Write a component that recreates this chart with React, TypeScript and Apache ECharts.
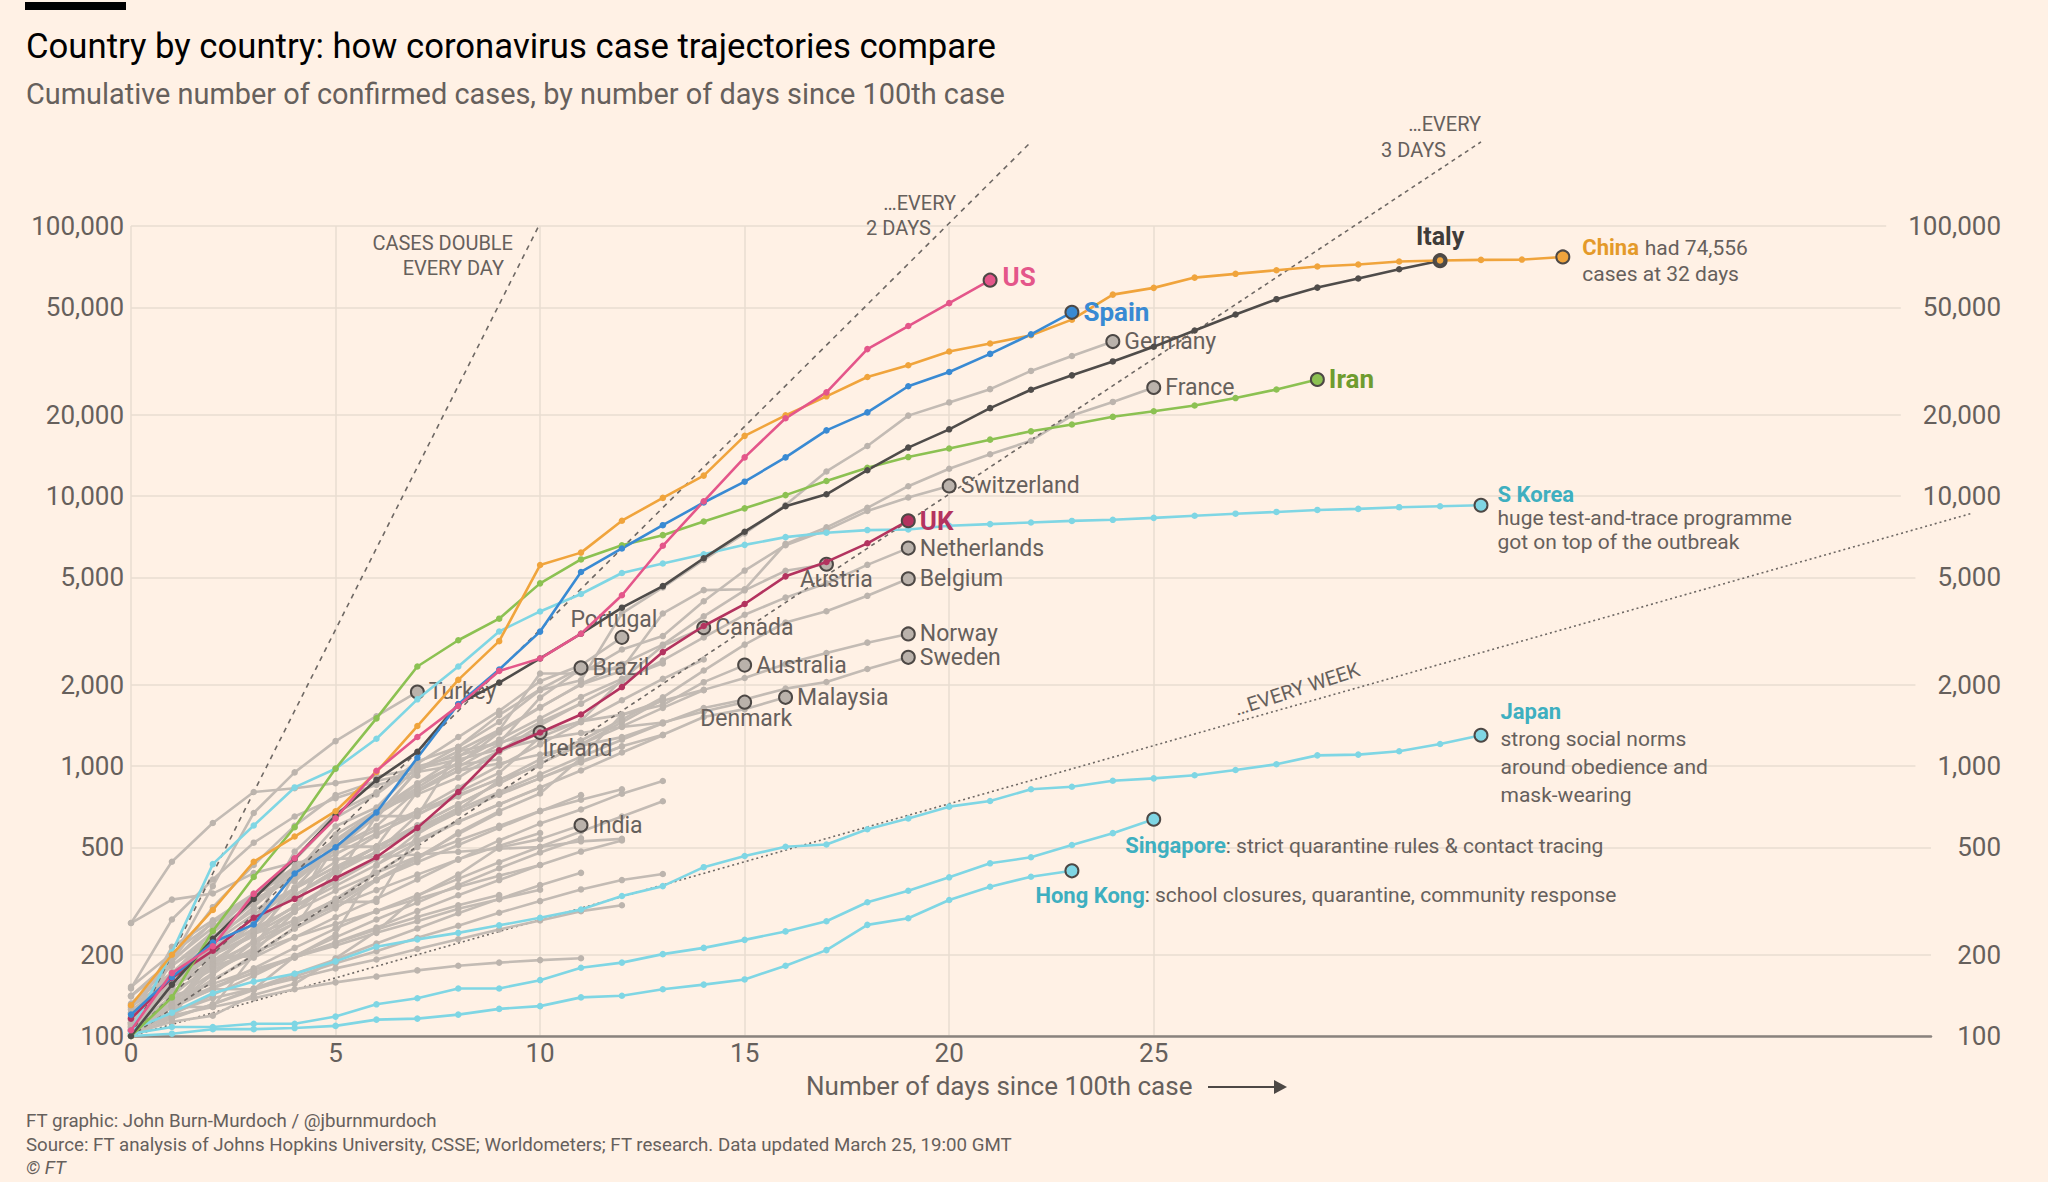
import React, { useEffect, useRef } from "react";
import * as echarts from "echarts";

const FONT = "Roboto, 'Open Sans', sans-serif";
const BG = "#fff1e5";
const TXT = "#66605c";
const GRID = "#e8dcd1";
const RING = "#4d4845";
const GRAY_LINE = "#c3bbb4";
const GRAY_DOT = "#bcb4ad";
const GRAY_END = "#bab2ab";
const CYAN = "#7fd6e4";
const TEAL = "#3eafc0";

const xTicks = [0, 5, 10, 15, 20, 25];
const yTicks = [100, 200, 500, 1000, 2000, 5000, 10000, 20000, 50000, 100000];

// Highlighted countries: cumulative cases by day since 100th case
const usCases = [105, 171, 215, 336, 455, 640, 960, 1280, 1670, 2250, 2500, 3090, 4290, 6540, 9550, 13900, 19400, 24200, 35000, 42600, 51800, 63000];
const spainCases = [120, 165, 222, 259, 400, 500, 673, 1073, 1695, 2277, 3146, 5232, 6391, 7798, 9460, 11300, 13900, 17500, 20400, 25500, 28800, 33600, 39700, 47900];
const chinaCases = [130, 200, 293, 442, 548, 680, 950, 1406, 2084, 2900, 5550, 6170, 8100, 9840, 11900, 16700, 19900, 23400, 27600, 30500, 34300, 36700, 39400, 45000, 55700, 59000, 64400, 66500, 68600, 70800, 72000, 73900, 74556, 74900, 75100, 76800];
const italyCases = [100, 155, 229, 322, 453, 655, 888, 1128, 1694, 2036, 2502, 3089, 3858, 4636, 5883, 7375, 9172, 10149, 12462, 15113, 17660, 21157, 24747, 27980, 31506, 35713, 41035, 47021, 53578, 59138, 63927, 69176, 74386];
const iranCases = [100, 139, 245, 388, 593, 978, 1501, 2336, 2922, 3513, 4747, 5823, 6566, 7161, 8042, 9000, 10075, 11364, 12729, 13938, 14991, 16169, 17361, 18407, 19644, 20610, 21638, 23049, 24811, 27017];
const ukCases = [116, 164, 207, 274, 322, 384, 459, 590, 801, 1143, 1330, 1551, 1960, 2642, 3300, 3980, 5040, 5700, 6680, 8100];
const sKoreaCases = [104, 204, 433, 602, 833, 977, 1261, 1766, 2337, 3150, 3736, 4335, 5186, 5621, 6088, 6593, 7041, 7314, 7478, 7513, 7755, 7869, 7979, 8086, 8162, 8300, 8450, 8600, 8730, 8880, 8960, 9090, 9160, 9240];
const japanCases = [105, 122, 144, 159, 170, 189, 214, 228, 241, 257, 274, 294, 330, 359, 422, 464, 502, 512, 583, 639, 707, 742, 820, 838, 882, 900, 924, 966, 1015, 1095, 1102, 1134, 1206, 1300];
const singaporeCases = [102, 108, 108, 111, 111, 118, 131, 138, 150, 150, 161, 179, 187, 201, 212, 227, 244, 266, 313, 345, 387, 436, 459, 510, 564, 635];
const hongKongCases = [100, 102, 106, 106, 107, 109, 115, 116, 120, 126, 129, 139, 141, 149, 155, 162, 182, 208, 258, 273, 319, 357, 389, 409];

// Labelled grey countries
const germanyCases = [130, 159, 196, 262, 482, 670, 799, 1040, 1176, 1457, 1908, 2078, 3675, 4585, 5795, 7272, 9257, 12327, 15320, 19848, 22213, 24873, 29056, 32986, 37323];
const franceCases = [100, 130, 191, 204, 288, 380, 656, 957, 1134, 1217, 1792, 2290, 2290, 3672, 4480, 4513, 6650, 7652, 9043, 10871, 12612, 14282, 16018, 19856, 22304, 25233];
const switzerlandCases = [114, 214, 268, 337, 374, 491, 652, 652, 1139, 1359, 2200, 2200, 2700, 3028, 4075, 5294, 6575, 7474, 8795, 9877, 10897];
const netherlandsCases = [128, 188, 265, 321, 382, 503, 503, 804, 959, 1135, 1413, 1705, 2051, 2460, 2994, 3631, 4204, 4749, 5560, 6412];
const belgiumCases = [109, 169, 200, 239, 267, 314, 314, 559, 689, 886, 1058, 1243, 1486, 1795, 2257, 2815, 3401, 3743, 4269, 4937];
const austriaCases = [104, 131, 182, 246, 302, 504, 655, 860, 1018, 1332, 1646, 2013, 2388, 2814, 3582, 4474, 5283, 5588];
const norwayCases = [108, 147, 176, 205, 400, 598, 702, 996, 1090, 1221, 1333, 1463, 1550, 1746, 1914, 2118, 2385, 2621, 2863, 3084];
const swedenCases = [101, 161, 203, 248, 355, 500, 599, 814, 961, 1022, 1103, 1190, 1279, 1439, 1639, 1763, 1934, 2046, 2286, 2526];
const canadaCases = [108, 117, 193, 198, 252, 415, 478, 657, 800, 943, 1277, 1469, 2088, 2790, 3251];
const australiaCases = [107, 128, 128, 200, 250, 297, 377, 452, 568, 681, 791, 1071, 1549, 1682, 2044, 2364];
const malaysiaCases = [117, 129, 149, 149, 197, 238, 428, 566, 673, 790, 900, 1030, 1183, 1306, 1518, 1624, 1796];
const denmarkCases = [262, 442, 615, 801, 827, 864, 914, 977, 1057, 1151, 1255, 1326, 1395, 1450, 1591, 1724];
const portugalCases = [112, 169, 245, 331, 448, 642, 785, 1020, 1280, 1600, 2060, 2362, 2995];
const brazilCases = [100, 121, 200, 234, 346, 529, 640, 970, 1178, 1546, 1924, 2310];
const turkeyCases = [100, 191, 359, 670, 947, 1236, 1529, 1880];
const irelandCases = [100, 129, 169, 223, 292, 557, 683, 785, 906, 1125, 1330];
const indiaCases = [102, 113, 119, 142, 156, 194, 244, 330, 396, 499, 536, 603];

// Other (unlabelled) countries
const otherCountries = [
  [105, 130, 162, 195, 232, 275, 322, 380, 450, 530, 612, 690, 790, 880],
  [118, 152, 190, 238, 290, 345, 402, 462, 530, 600, 682, 750, 820],
  [110, 127, 150, 178, 212, 250, 290, 332, 382, 440, 502, 572, 650, 740],
  [102, 120, 142, 167, 198, 232, 270, 312, 362, 418, 478, 540],
  [115, 131, 150, 172, 196, 222, 252, 290, 332, 378, 430, 482, 530],
  [100, 116, 131, 150, 170, 192, 220, 250, 285, 322, 362, 402],
  [112, 131, 152, 171, 195, 221, 248, 276, 305, 333],
  [110, 119, 128, 138, 149, 158, 166, 175, 182, 187, 191, 194],
  [104, 117, 131, 148, 166, 186, 206, 231, 256, 286, 316, 349, 378, 398],
  [122, 152, 186, 221, 262, 302, 347, 396, 451, 506, 565],
  [126, 141, 156, 176, 196, 216, 241, 266, 296, 321, 348],
  [115, 151, 202, 262, 331, 412, 502, 603, 722, 862, 1021, 1203, 1452, 1760],
  [131, 172, 221, 282, 351, 423, 502, 592, 691, 802, 931, 1082, 1251, 1440],
  [106, 141, 186, 242, 302, 372, 452, 532, 622, 722, 832, 962, 1122, 1300],
  [141, 182, 231, 292, 352, 422, 502, 582, 672, 782, 902, 1042, 1180],
  [121, 162, 212, 272, 352, 442, 552, 682, 832, 1002, 1202, 1452, 1752, 2102, 2480],
  [112, 152, 202, 262, 332, 412, 502, 602, 722, 862, 1022, 1202, 1402, 1642, 1910],
  [152, 202, 262, 332, 412, 492, 582, 682, 782, 892, 1000],
  [132, 182, 242, 312, 392, 472, 562, 662, 772, 900],
  [111, 151, 202, 262, 332, 402, 482, 582, 700],
  [106, 136, 171, 212, 262, 322, 402, 500],
  [141, 191, 252, 332, 422, 532, 662, 812, 992, 1202, 1452, 1700],
  [122, 172, 232, 312, 412, 532, 682, 862, 1082, 1352, 1652, 2002, 2250],
  [112, 162, 222, 302, 402, 522, 662, 832, 1032, 1252, 1502, 1802, 2102, 2400],
  [262, 320, 337, 401, 439, 452, 460, 470, 481, 494, 501, 526, 537],
  [108, 122, 138, 150, 163, 178, 192, 210, 228, 248, 268, 290, 305],
  [128, 165, 205, 250, 300, 360, 430, 520, 620, 720, 830],
  [100, 128, 160, 200, 250, 310, 380, 460, 560, 670],
  [116, 145, 180, 225, 270, 320, 380, 440, 510, 590, 680, 780],
  [125, 155, 180, 205, 232, 260, 290, 322, 356, 392, 430],
  [150, 270, 380, 520, 650, 760, 850, 920],
  [140, 190, 300, 430, 600, 780, 880, 950, 1010, 1060],
];

// Doubling-time guide lines: [day, cases] end points
const refEveryDay = [[0, 100], [10, 102400]];
const refEvery2Days = [[0, 100], [22, 204800]];
const refEvery3Days = [[0, 100], [33, 204800]];
const refEveryWeek = [[0, 100], [45, 8629]];

const baseLabel = { fontFamily: FONT, fontSize: 23, color: TXT };

function lineSeries(name: string, vals: number[], lineColor: string, dotColor: string, z: number, end?: any) {
  const last = vals.length - 1;
  return {
    type: "line",
    name,
    silent: true,
    z,
    symbol: "circle",
    symbolSize: 6.5,
    showSymbol: true,
    showAllSymbol: true,
    lineStyle: { color: lineColor, width: 2.6 },
    itemStyle: { color: dotColor },
    emphasis: { disabled: true },
    label: { show: false },
    data: vals.map((v, i) =>
      end && i === last
        ? {
            value: [i, v],
            symbolSize: 13,
            itemStyle: { color: end.fill, borderColor: RING, borderWidth: 2 },
            label: { show: true, ...baseLabel, ...end.label },
          }
        : [i, v]
    ),
  };
}

function refSeries(name: string, pts: number[][], dash: number[]) {
  return {
    type: "line",
    name,
    silent: true,
    clip: false,
    z: 2,
    symbol: "none",
    lineStyle: { color: "#6e6864", width: 1.6, type: dash },
    emphasis: { disabled: true },
    data: pts,
  };
}

const greyEnd = (label: any) => ({ fill: GRAY_END, label });
const boldLbl = (color: string, extra: any = {}) => ({ color, fontWeight: "bold", fontSize: 26, ...extra });

function buildOption() {
  const series: any[] = [];
  otherCountries.forEach((vals, k) => series.push(lineSeries("other" + k, vals, GRAY_LINE, GRAY_DOT, 2)));

  const right = (text: string) => ({ position: "right", distance: 4, formatter: text });
  const at = (text: string, pos: number[]) => ({ position: pos, align: "left", verticalAlign: "middle", formatter: text });

  series.push(lineSeries("Germany", germanyCases, GRAY_LINE, GRAY_DOT, 2, greyEnd(right("Germany"))));
  series.push(lineSeries("France", franceCases, GRAY_LINE, GRAY_DOT, 2, greyEnd(right("France"))));
  series.push(lineSeries("Switzerland", switzerlandCases, GRAY_LINE, GRAY_DOT, 2, greyEnd(right("Switzerland"))));
  series.push(lineSeries("Netherlands", netherlandsCases, GRAY_LINE, GRAY_DOT, 2, greyEnd(right("Netherlands"))));
  series.push(lineSeries("Belgium", belgiumCases, GRAY_LINE, GRAY_DOT, 2, greyEnd(right("Belgium"))));
  series.push(lineSeries("Austria", austriaCases, GRAY_LINE, GRAY_DOT, 2, greyEnd(at("Austria", [-19, 23]))));
  series.push(lineSeries("Norway", norwayCases, GRAY_LINE, GRAY_DOT, 2, greyEnd(right("Norway"))));
  series.push(lineSeries("Sweden", swedenCases, GRAY_LINE, GRAY_DOT, 2, greyEnd(right("Sweden"))));
  series.push(lineSeries("Canada", canadaCases, GRAY_LINE, GRAY_DOT, 2, greyEnd(right("Canada"))));
  series.push(lineSeries("Australia", australiaCases, GRAY_LINE, GRAY_DOT, 2, greyEnd(right("Australia"))));
  series.push(lineSeries("Malaysia", malaysiaCases, GRAY_LINE, GRAY_DOT, 2, greyEnd(right("Malaysia"))));
  series.push(lineSeries("Denmark", denmarkCases, GRAY_LINE, GRAY_DOT, 2, greyEnd(at("Denmark", [-37, 24]))));
  series.push(lineSeries("Portugal", portugalCases, GRAY_LINE, GRAY_DOT, 2, greyEnd(at("Portugal", [-44, -10]))));
  series.push(lineSeries("Brazil", brazilCases, GRAY_LINE, GRAY_DOT, 2, greyEnd(right("Brazil"))));
  series.push(lineSeries("Turkey", turkeyCases, GRAY_LINE, GRAY_DOT, 2, greyEnd(right("Turkey"))));
  series.push(lineSeries("Ireland", irelandCases, GRAY_LINE, GRAY_DOT, 2, greyEnd(at("Ireland", [10, 23]))));
  series.push(lineSeries("India", indiaCases, GRAY_LINE, GRAY_DOT, 2, greyEnd(right("India"))));

  series.push(refSeries("every day", refEveryDay, [5, 5]));
  series.push(refSeries("every 2 days", refEvery2Days, [5, 5]));
  series.push(refSeries("every 3 days", refEvery3Days, [4, 4]));

  const richT = { color: TXT, fontSize: 21, fontFamily: FONT };
  const richB = (c: string) => ({ color: c, fontSize: 22, fontWeight: "bold", fontFamily: FONT });

  series.push(
    lineSeries("Hong Kong", hongKongCases, CYAN, CYAN, 3, {
      fill: CYAN,
      label: {
        position: [-29, 32],
        align: "left",
        verticalAlign: "middle",
        formatter: "{b|Hong Kong}{t|: school closures, quarantine, community response}",
        rich: { b: richB(TEAL), t: richT },
      },
    })
  );
  series.push(
    lineSeries("Singapore", singaporeCases, CYAN, CYAN, 3, {
      fill: CYAN,
      label: {
        position: [-21, 34],
        align: "left",
        verticalAlign: "middle",
        formatter: "{b|Singapore}{t|: strict quarantine rules & contact tracing}",
        rich: { b: richB(TEAL), t: richT },
      },
    })
  );
  series.push(
    lineSeries("Japan", japanCases, CYAN, CYAN, 3, {
      fill: CYAN,
      label: {
        position: "right",
        distance: 5,
        offset: [7, 18],
        formatter: "{b|Japan}\n{t|strong social norms}\n{t|around obedience and}\n{t|mask-wearing}",
        rich: { b: { ...richB(TEAL), lineHeight: 28 }, t: { ...richT, lineHeight: 28 } },
      },
    })
  );
  series.push(
    lineSeries("S Korea", sKoreaCases, CYAN, CYAN, 3, {
      fill: CYAN,
      label: {
        position: "right",
        distance: 5,
        offset: [4, 13],
        formatter: "{b|S Korea}\n{t|huge test-and-trace programme}\n{t|got on top of the outbreak}",
        rich: { b: { ...richB(TEAL), lineHeight: 24 }, t: { ...richT, lineHeight: 24 } },
      },
    })
  );
  series.push(lineSeries("UK", ukCases, "#b3335f", "#b3335f", 4, { fill: "#b3335f", label: { position: "right", distance: 4, formatter: "UK", ...boldLbl("#b3335f") } }));
  series.push(lineSeries("Iran", iranCases, "#8cc152", "#8cc152", 4, { fill: "#8cc152", label: { position: "right", distance: 4, formatter: "Iran", ...boldLbl("#6f9c2f") } }));
  series.push(lineSeries("Italy", italyCases, "#4f4c4a", "#4f4c4a", 4, { fill: "#4f4c4a", label: { position: "top", distance: 4, formatter: "Italy", ...boldLbl("#3f3c3a", { fontSize: 25 }) } }));
  series.push(
    lineSeries("China", chinaCases, "#f0a43c", "#f0a43c", 4, {
      fill: "#f0a43c",
      label: {
        position: "right",
        distance: 8,
        offset: [4, 4],
        formatter: "{b|China} {t|had 74,556}\n{t|cases at 32 days}",
        rich: { b: { ...richB("#e49a2a"), lineHeight: 26 }, t: { ...richT, lineHeight: 26 } },
      },
    })
  );
  series.push(lineSeries("Spain", spainCases, "#398ad3", "#398ad3", 4, { fill: "#398ad3", label: { position: "right", distance: 4, formatter: "Spain", ...boldLbl("#398ad3") } }));
  series.push(lineSeries("US", usCases, "#e4568a", "#e4568a", 4, { fill: "#e4568a", label: { position: "right", distance: 5, offset: [0, -3], formatter: "US", ...boldLbl("#e4568a") } }));

  const fmt = (v: number) => Math.round(v).toLocaleString("en-US");
  const axisFont = { color: TXT, fontSize: 26, fontFamily: FONT };

  return {
    animation: false,
    backgroundColor: BG,
    grid: { left: 131, right: 117, top: 226, bottom: 146, containLabel: false },
    xAxis: {
      type: "value",
      min: 0,
      max: 44,
      interval: 5,
      axisLine: { show: true, onZero: false, lineStyle: { color: "#8a837e", width: 2.5 } },
      axisTick: { show: false, customValues: xTicks },
      axisLabel: { ...axisFont, margin: 4, customValues: xTicks },
      splitLine: { show: true, lineStyle: { color: GRID, width: 1.5 } },
    },
    yAxis: [
      {
        type: "log",
        logBase: 10,
        min: 100,
        max: 100000,
        axisLine: { show: false },
        axisTick: { show: false, customValues: yTicks },
        axisLabel: { ...axisFont, margin: 7, formatter: fmt, customValues: yTicks },
        splitLine: { show: true, lineStyle: { color: GRID, width: 1.5 } },
      },
      {
        type: "log",
        logBase: 10,
        min: 100,
        max: 100000,
        position: "right",
        z: 1,
        axisLine: { show: false },
        axisTick: { show: false, customValues: yTicks },
        axisLabel: { ...axisFont, margin: 70, align: "right", formatter: fmt, customValues: yTicks, backgroundColor: BG, lineHeight: 26, padding: [0, 0, 0, 22] },
        splitLine: { show: false },
      },
    ],
    series,
  };
}

function buildGraphics(weekStart: number[], weekEnd: number[]) {
  const t = (id: string, text: string, x: number, y: number, style: any = {}, extra: any = {}) => ({
    type: "text",
    id,
    x,
    y,
    silent: true,
    ...extra,
    style: { text, fill: TXT, fontFamily: FONT, fontSize: 20, align: "left", verticalAlign: "middle", ...style },
  });
  return [
    { type: "rect", id: "bar", silent: true, shape: { x: 25, y: 2, width: 101, height: 8 }, style: { fill: "#000" } },
    t("title", "Country by country: how coronavirus case trajectories compare", 26, 46, { fill: "#000", fontSize: 34.7 }),
    t("subtitle", "Cumulative number of confirmed cases, by number of days since 100th case", 26, 94, { fontSize: 28.9 }),
    t("r1a", "CASES DOUBLE", 513, 243, { align: "right" }),
    t("r1b", "EVERY DAY", 504, 268, { align: "right" }),
    t("r2a", "…EVERY", 956, 203, { align: "right" }),
    t("r2b", "2 DAYS", 931, 228, { align: "right" }),
    t("r3a", "…EVERY", 1481, 124, { align: "right" }),
    t("r3b", "3 DAYS", 1446, 150, { align: "right" }),
    {
      type: "line",
      id: "weekLine",
      silent: true,
      z: 2,
      shape: { x1: weekStart[0], y1: weekStart[1], x2: weekEnd[0], y2: weekEnd[1] },
      style: { stroke: "#6e6864", lineWidth: 1.6, lineDash: [2, 3] },
    },
    t("r4", "…EVERY WEEK", 1297, 689, { align: "center" }, { rotation: (18 * Math.PI) / 180 }),
    t("xname", "Number of days since 100th case", 806, 1086, { fontSize: 26 }),
    { type: "line", id: "arrowLine", silent: true, shape: { x1: 1208, y1: 1087, x2: 1276, y2: 1087 }, style: { stroke: RING, lineWidth: 2 } },
    { type: "polygon", id: "arrowHead", silent: true, shape: { points: [[1274, 1080], [1287, 1087], [1274, 1094]] }, style: { fill: RING } },
    t("f1", "FT graphic: John Burn-Murdoch / @jburnmurdoch", 26, 1121, { fontSize: 18.7 }),
    t("f2", "Source: FT analysis of Johns Hopkins University, CSSE; Worldometers; FT research. Data updated March 25, 19:00 GMT", 26, 1145, { fontSize: 18.7 }),
    t("f3", "© FT", 26, 1168, { fontSize: 18.7, fontStyle: "italic" }),
  ];
}

export default function App() {
  const ref = useRef<HTMLDivElement>(null);
  useEffect(() => {
    const chart = echarts.init(ref.current!, null, { renderer: "svg" });
    chart.setOption(buildOption() as any);
    const finder = { xAxisIndex: 0, yAxisIndex: 0 };
    const p0 = chart.convertToPixel(finder, refEveryWeek[0]) as number[];
    const p1 = chart.convertToPixel(finder, refEveryWeek[1]) as number[];
    chart.setOption({ graphic: buildGraphics(p0, p1) } as any);
    return () => chart.dispose();
  }, []);
  return <div ref={ref} style={{ position: "fixed", left: 0, top: 0, width: 2048, height: 1182, background: BG }} />;
}
